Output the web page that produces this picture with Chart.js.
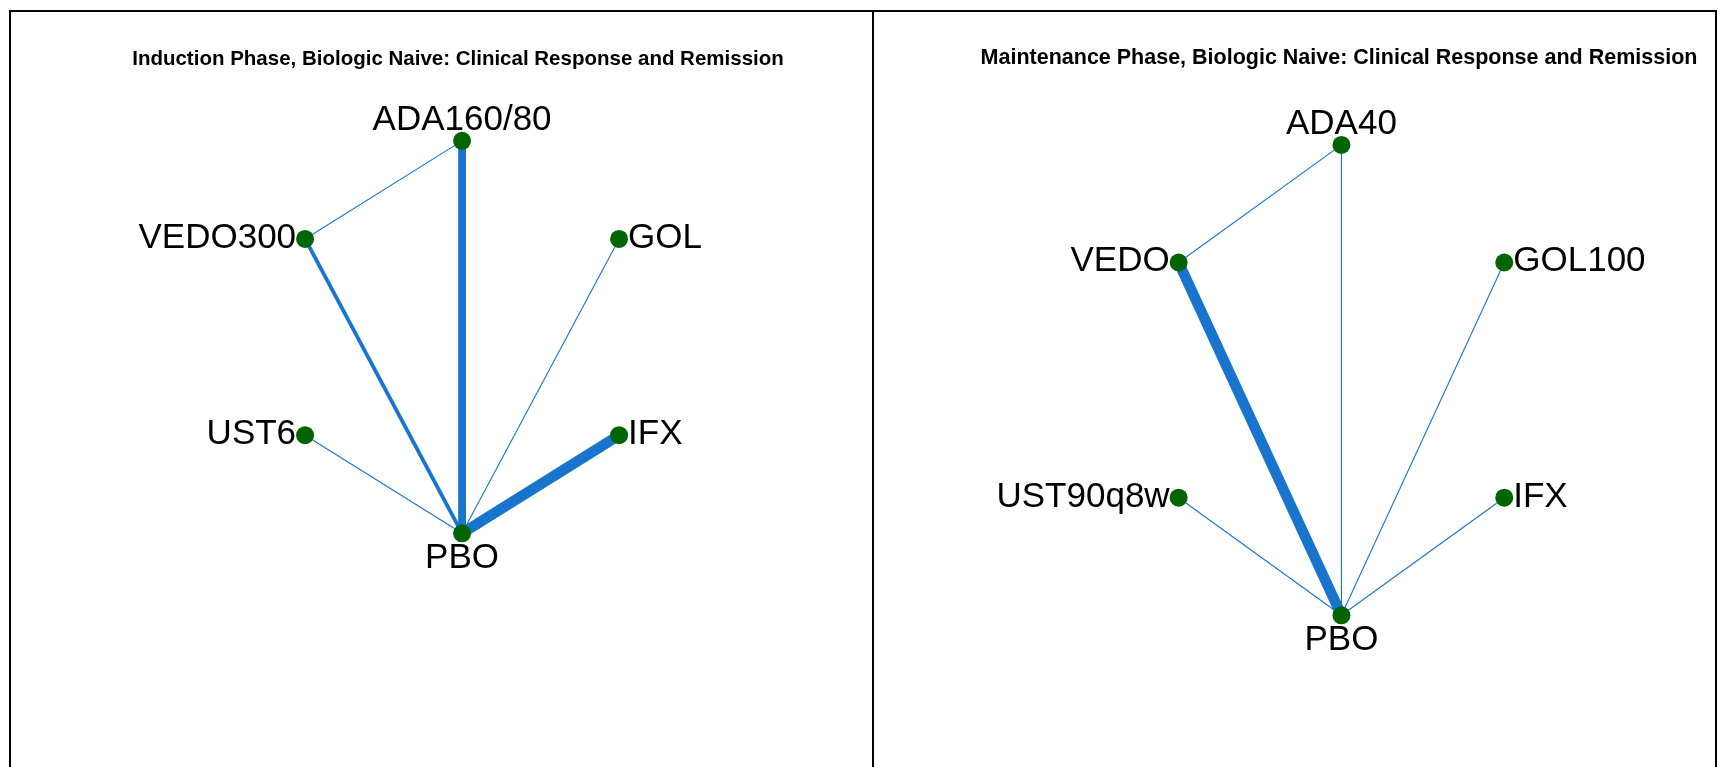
<!DOCTYPE html>
<html>
<head>
<meta charset="utf-8">
<script src="https://cdn.jsdelivr.net/npm/chart.js@4.4.1/dist/chart.umd.min.js"></script>
<style>
    html, body { margin: 0; padding: 0; background: #fff; overflow: hidden; }
    body { width: 1718px; height: 767px; position: relative; }
    .frame { position: absolute; left: 9px; top: 10px; width: 1704px; height: 800px;
             border-left: 2px solid #000; border-top: 2px solid #000; border-right: 2px solid #000; }
    .divider { position: absolute; left: 872px; top: 10px; width: 2px; height: 800px; background: #000; }
    .panel { position: absolute; top: 12px; height: 755px; }
</style>
</head>
<body>
<div class="frame"></div>
<div class="divider"></div>
<div class="panel" style="left:11px; width:861px;"><canvas id="induction"></canvas></div>
<div class="panel" style="left:874px; width:841px;"><canvas id="maintenance"></canvas></div>

<script>
// Network layout: hexagon positions
const inductionNodes = ['ADA160/80', 'VEDO300', 'GOL', 'UST6', 'IFX', 'PBO'];
const inductionX = [0, -0.866, 0.866, -0.866, 0.866, 0];
const inductionY = [1, 0.5, 0.5, -0.5, -0.5, -1];
const inductionEdgeFrom = ['ADA160/80', 'ADA160/80', 'VEDO300', 'GOL', 'UST6', 'IFX'];
const inductionEdgeTo = ['VEDO300', 'PBO', 'PBO', 'PBO', 'PBO', 'PBO'];
const inductionEdgeWeight = [1, 6, 3, 1, 1, 8];

const maintenanceNodes = ['ADA40', 'VEDO', 'GOL100', 'UST90q8w', 'IFX', 'PBO'];
const maintenanceX = [0, -0.866, 0.866, -0.866, 0.866, 0];
const maintenanceY = [1, 0.5, 0.5, -0.5, -0.5, -1];
const maintenanceEdgeFrom = ['ADA40', 'ADA40', 'VEDO', 'GOL100', 'UST90q8w', 'IFX'];
const maintenanceEdgeTo = ['VEDO', 'PBO', 'PBO', 'PBO', 'PBO', 'PBO'];
const maintenanceEdgeWeight = [1, 1, 8, 1, 1, 1];

const FONT = "'Liberation Sans', Arial, sans-serif";
const NODE_RADIUS = 9;
const EDGE_COLOR = '#1874CD';
const NODE_COLOR = '#006400';

// draws node names next to each node
const nodeLabels = {
    id: 'nodeLabels',
    afterDatasetsDraw(chart) {
        const meta = chart.getDatasetMeta(0);
        const ds = chart.data.datasets[0];
        const ctx = chart.ctx;
        ctx.save();
        ctx.fillStyle = '#000';
        ctx.font = '35px ' + FONT;
        ctx.textBaseline = 'alphabetic';
        meta.data.forEach(function (pt, i) {
            const raw = ds.data[i];
            const r = NODE_RADIUS;
            if (raw.y >= 1) {
                ctx.textAlign = 'center';
                ctx.fillText(raw.name, pt.x, pt.y - r - 2);
            } else if (raw.y <= -1) {
                ctx.textAlign = 'center';
                ctx.fillText(raw.name, pt.x, pt.y + r + 26);
            } else if (raw.x < 0) {
                ctx.textAlign = 'right';
                ctx.fillText(raw.name, pt.x - r, pt.y + 9);
            } else {
                ctx.textAlign = 'left';
                ctx.fillText(raw.name, pt.x + r, pt.y + 9);
            }
        });
        ctx.restore();
    }
};

function createNetwork(canvasId, title, names, xs, ys, from, to, weight, opts) {
    const ctx = document.getElementById(canvasId);
    if (!ctx) return;

    const pos = {};
    names.forEach((n, i) => { pos[n] = { x: xs[i], y: ys[i] }; });

    const datasets = [{
        label: 'nodes',
        data: names.map((n, i) => ({ x: xs[i], y: ys[i], name: n })),
        pointRadius: NODE_RADIUS,
        pointHoverRadius: NODE_RADIUS,
        backgroundColor: NODE_COLOR,
        borderWidth: 0,
        order: 0
    }];

    from.forEach(function (f, i) {
        datasets.push({
            label: f + '-' + to[i],
            data: [pos[f], pos[to[i]]],
            showLine: true,
            borderColor: EDGE_COLOR,
            borderWidth: weight[i] * 1.35 - 0.25,
            borderCapStyle: 'butt',
            pointRadius: 0,
            order: 1
        });
    });

    return new Chart(ctx, {
        type: 'scatter',
        data: { datasets: datasets },
        options: {
            responsive: true,
            maintainAspectRatio: false,
            animation: false,
            layout: { autoPadding: false, padding: { left: opts.padLeft, right: 0, top: 0, bottom: 0 } },
            plugins: {
                legend: { display: false },
                tooltip: { enabled: false },
                title: {
                    display: true,
                    text: title,
                    color: '#000',
                    font: { family: FONT, size: opts.titleSize, weight: 'bold', lineHeight: 1.2 },
                    padding: { top: opts.titlePad, bottom: 0 }
                }
            },
            scales: {
                x: { type: 'linear', display: false, min: opts.xMin, max: opts.xMax },
                y: { type: 'linear', display: false, min: opts.yMin, max: opts.yMax }
            }
        },
        plugins: [nodeLabels]
    });
}

createNetwork('induction', 'Induction Phase, Biologic Naive: Clinical Response and Remission',
    inductionNodes, inductionX, inductionY, inductionEdgeFrom, inductionEdgeTo, inductionEdgeWeight,
    { padLeft: 33, titleSize: 20.5, titlePad: 35, xMin: -2.306, xMax: 2.261, yMin: -2.191, yMax: 1.353 });

createNetwork('maintenance', 'Maintenance Phase, Biologic Naive: Clinical Response and Remission',
    maintenanceNodes, maintenanceX, maintenanceY, maintenanceEdgeFrom, maintenanceEdgeTo, maintenanceEdgeWeight,
    { padLeft: 89, titleSize: 21.5, titlePad: 33, xMin: -2.013, xMax: 1.987, yMin: -1.645, yMax: 1.315 });
</script>
</body>
</html>
